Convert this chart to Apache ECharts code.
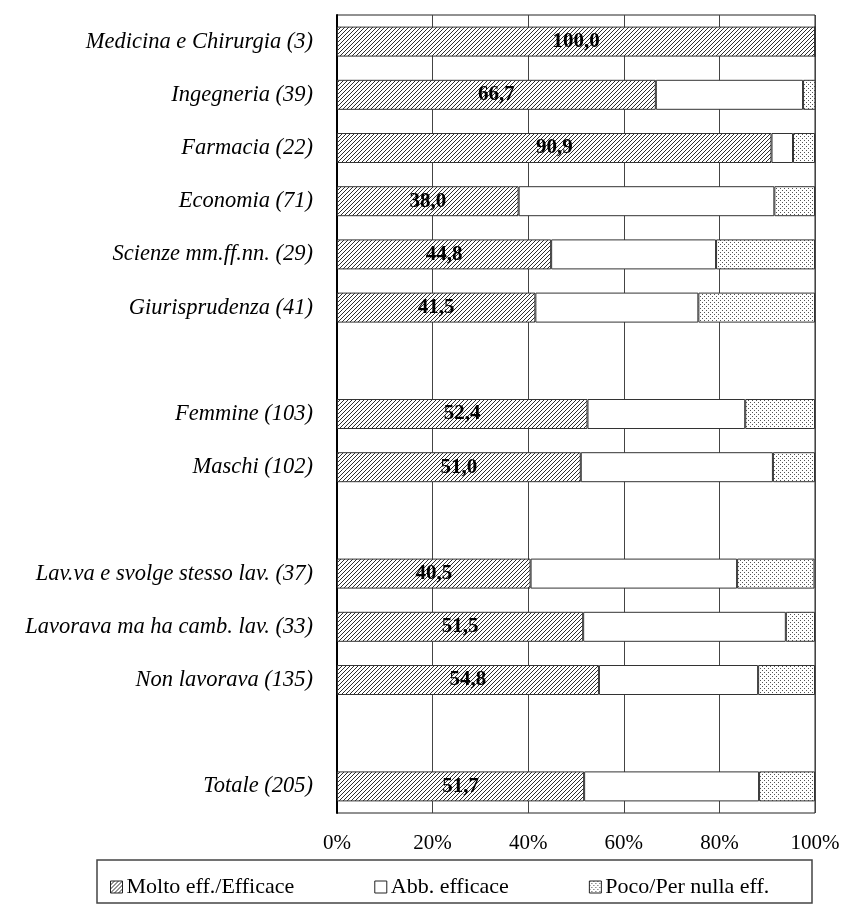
<!DOCTYPE html>
<html>
<head>
<meta charset="utf-8">
<script src="https://cdn.jsdelivr.net/npm/echarts@6/dist/echarts.min.js"></script>
<style>
  html, body { margin: 0; padding: 0; background: #fff; }
  #chart { width: 846px; height: 908px; }
</style>
</head>
<body>
<div id="chart"></div>
<script>
// blank rows separate the groups (facoltà / genere / condizione lavorativa / totale)
const categories = [
  'Medicina e Chirurgia (3)',
  'Ingegneria (39)',
  'Farmacia (22)',
  'Economia (71)',
  'Scienze mm.ff.nn. (29)',
  'Giurisprudenza (41)',
  ' ',
  'Femmine (103)',
  'Maschi (102)',
  '  ',
  'Lav.va e svolge stesso lav. (37)',
  'Lavorava ma ha camb. lav. (33)',
  'Non lavorava (135)',
  '   ',
  'Totale (205)'
]
const molto = [100.0, 66.7, 90.9, 38.0, 44.8, 41.5, '-', 52.4, 51.0, '-', 40.5, 51.5, 54.8, '-', 51.7]
const abb   = [0, 30.8, 4.5, 53.5, 34.5, 34.1, '-', 33.0, 40.2, '-', 43.2, 42.4, 33.3, '-', 36.6]
const poco  = [0, 2.6, 4.6, 8.5, 20.7, 24.4, '-', 14.6, 8.8, '-', 16.2, 6.1, 11.9, '-', 11.7]
const seriesNames = ['Molto eff./Efficace', 'Abb. efficace', 'Poco/Per nulla eff.']
const xTicks = [0, 20, 40, 60, 80, 100]

const FONT = '"Liberation Serif", "DejaVu Serif", serif'

function hatchPattern() {
  const s = 4
  const c = document.createElement('canvas')
  c.width = s; c.height = s
  const g = c.getContext('2d')
  g.fillStyle = '#fff'
  g.fillRect(0, 0, s, s)
  g.strokeStyle = '#2e2e2e'
  g.lineWidth = 1
  g.beginPath()
  g.moveTo(0, s); g.lineTo(s, 0)
  g.moveTo(-1, 1); g.lineTo(1, -1)
  g.moveTo(s - 1, s + 1); g.lineTo(s + 1, s - 1)
  g.stroke()
  return { image: c, repeat: 'repeat' }
}

function dotPattern() {
  const s = 4
  const c = document.createElement('canvas')
  c.width = s; c.height = s
  const g = c.getContext('2d')
  g.fillStyle = '#fff'
  g.fillRect(0, 0, s, s)
  g.fillStyle = '#555'
  g.fillRect(0, 0, 1, 1)
  g.fillRect(2, 2, 1, 1)
  return { image: c, repeat: 'repeat' }
}

const fills = [hatchPattern(), '#ffffff', dotPattern()]
const values = [molto, abb, poco]

const chart = echarts.init(document.getElementById('chart'))

chart.setOption({
  backgroundColor: '#fff',
  animation: false,
  textStyle: { fontFamily: FONT },
  grid: {
    left: 337, right: 31, top: 15, bottom: 95,
    show: true, borderColor: '#222', borderWidth: 1
  },
  legend: {
    data: seriesNames.map((n, i) => ({
      name: n,
      itemStyle: { color: fills[i], borderColor: '#222', borderWidth: 1 }
    })),
    left: 110, top: 876,
    padding: 0,
    itemWidth: 12, itemHeight: 12, itemGap: 80,
    icon: 'rect',
    selectedMode: false,
    textStyle: { fontFamily: FONT, fontSize: 22, color: '#000', padding: [0, 0, 0, -1] }
  },
  graphic: [{
    type: 'rect',
    shape: { x: 97, y: 860, width: 715, height: 43 },
    style: { fill: 'none', stroke: '#444', lineWidth: 1.5 },
    silent: true
  }],
  xAxis: {
    type: 'value',
    min: 0, max: 100, interval: 20,
    axisLine: { show: false },
    axisTick: { show: false },
    axisLabel: {
      formatter: '{value}%',
      color: '#000', fontFamily: FONT, fontSize: 21, margin: 20,
      customValues: xTicks
    },
    splitLine: { show: true, lineStyle: { color: '#444', width: 1 } }
  },
  yAxis: {
    type: 'category',
    inverse: true,
    data: categories,
    axisLine: { show: true, lineStyle: { color: '#000', width: 2 } },
    axisTick: { show: false },
    axisLabel: {
      color: '#000', fontFamily: FONT, fontSize: 22.5, fontStyle: 'italic', margin: 24
    }
  },
  series: seriesNames.map((name, i) => ({
    name,
    type: 'bar',
    stack: 'tot',
    barWidth: 30,
    data: values[i],
    itemStyle: { color: fills[i], borderColor: '#333', borderWidth: 1 },
    label: i === 0 ? {
      show: true,
      position: 'inside',
      color: '#000',
      fontFamily: FONT,
      fontSize: 21,
      fontWeight: 'bold',
      formatter: p => (typeof p.value === 'number' ? p.value.toFixed(1).replace('.', ',') : '')
    } : { show: false }
  }))
})
</script>
</body>
</html>
